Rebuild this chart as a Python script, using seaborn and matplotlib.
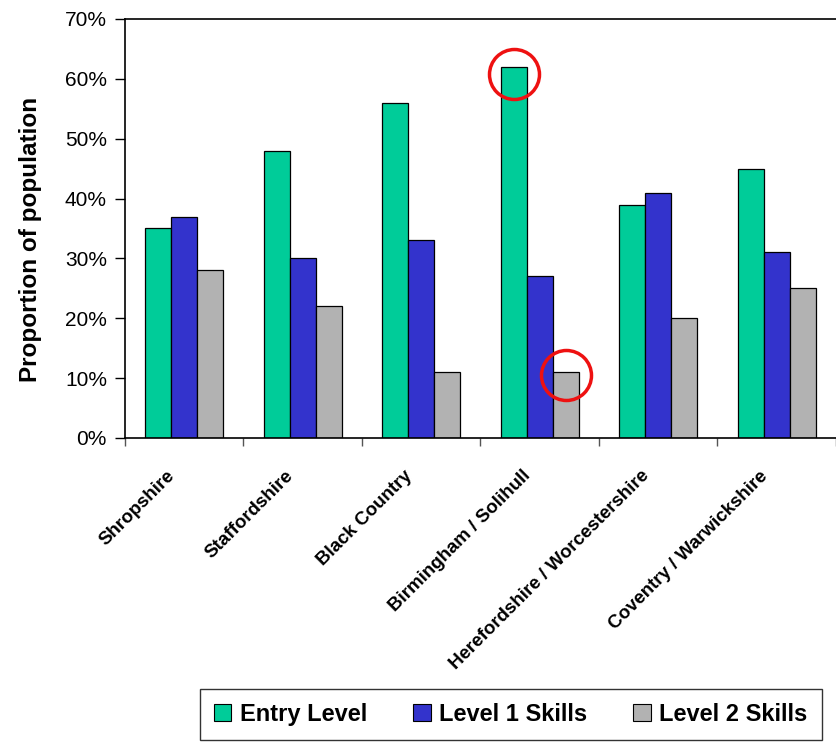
import matplotlib
matplotlib.use("Agg")
import matplotlib.pyplot as plt
import matplotlib.transforms as mtransforms
import seaborn as sns
import pandas as pd
from matplotlib.ticker import FuncFormatter, FixedLocator

regions = ["Shropshire", "Staffordshire", "Black Country", "Birmingham / Solihull",
           "Herefordshire / Worcestershire", "Coventry / Warwickshire"]
series = ["Entry Level", "Level 1 Skills", "Level 2 Skills"]
entry_level = [35, 48, 56, 62, 39, 45]
level1_skills = [37, 30, 33, 27, 41, 31]
level2_skills = [28, 22, 11, 11, 20, 25]
colors = ["#00CC99", "#3333CC", "#B2B2B2"]

df = pd.DataFrame({
    "Region": regions * 3,
    "Level": [s for s in series for _ in regions],
    "Value": entry_level + level1_skills + level2_skills,
})

sns.set_style("white")
plt.rcParams["font.family"] = ["Liberation Sans", "DejaVu Sans"]
plt.rcParams.update({"text.color": "black", "axes.labelcolor": "black",
                     "xtick.color": "black", "ytick.color": "black"})

fig = plt.figure(figsize=(8.36, 7.44), dpi=100)
ax = fig.add_axes([0.1495, 0.4113, 0.8505, 0.5632])

sns.barplot(data=df, x="Region", y="Value", hue="Level", order=regions,
            hue_order=series, palette=colors, width=0.66, gap=0,
            edgecolor="black", linewidth=0.9, saturation=1, ax=ax,
            legend=True)

ax.set_xlim(-0.5, 5.5)
ax.set_ylim(0, 70)
ax.set_yticks(range(0, 71, 10))
ax.yaxis.set_major_formatter(FuncFormatter(lambda v, p: f"{int(v)}%"))
ax.tick_params(axis="y", labelsize=15, length=7, width=1, color="black",
               labelcolor="black", direction="out", left=True, pad=6)

# category labels without tick marks; separator ticks between groups
ax.tick_params(axis="x", which="major", length=0, pad=6, labelcolor="black")
ax.xaxis.set_minor_locator(FixedLocator([i - 0.5 for i in range(len(regions) + 1)]))
ax.tick_params(axis="x", which="minor", length=6, width=1, color="#555555",
               direction="out", bottom=True)
ax.set_xticks(range(len(regions)))
ax.set_xticklabels(regions, rotation=45, ha="right", rotation_mode="anchor",
                   fontsize=13.5, fontweight="bold", color="black")
for lbl in ax.get_xticklabels():
    lbl.set_transform(lbl.get_transform() +
                      mtransforms.ScaledTranslation(-0.18, -0.21, fig.dpi_scale_trans))

ax.set_xlabel("")
ax.set_ylabel("Proportion of population", fontsize=17.5, fontweight="bold",
              color="black")
ax.yaxis.set_label_coords(-0.117, 0.475)

for side in ["left", "bottom", "top"]:
    ax.spines[side].set_visible(True)
    ax.spines[side].set_color("black")
    ax.spines[side].set_linewidth(1.2)
ax.spines["right"].set_visible(False)

# highlight rings on the Birmingham / Solihull extremes
offset = 0.66 / 3
ax.plot([3 - offset], [entry_level[3] - 1.2], marker="o", markersize=36,
        markerfacecolor="none", markeredgecolor="#EE1111", markeredgewidth=2.5,
        clip_on=False, zorder=5)
ax.plot([3 + offset], [level2_skills[3] - 0.5], marker="o", markersize=36,
        markerfacecolor="none", markeredgecolor="#EE1111", markeredgewidth=2.5,
        clip_on=False, zorder=5)

handles, labels = ax.get_legend_handles_labels()
ax.get_legend().remove()
leg = fig.legend(handles, labels, loc="center", bbox_to_anchor=(0.6107, 0.0397),
                 ncol=3, frameon=True, fancybox=False, edgecolor="black",
                 prop={"size": 17, "weight": "bold"}, handlelength=0.75,
                 handleheight=0.75, handletextpad=0.35, columnspacing=1.95,
                 borderpad=0.6, borderaxespad=0)
leg.get_frame().set_linewidth(1.0)
for t in leg.get_texts():
    t.set_color("black")
for h in leg.legend_handles:
    h.set_edgecolor("black")
    h.set_linewidth(0.8)

fig.savefig("out.png", dpi=100)
